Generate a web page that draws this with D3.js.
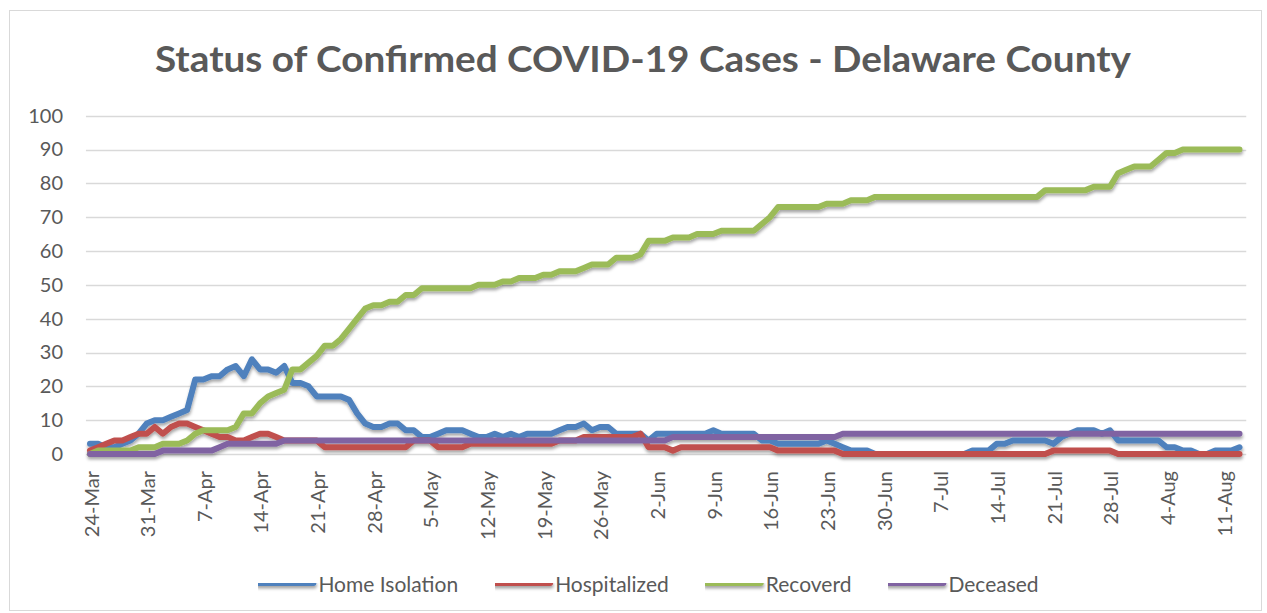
<!DOCTYPE html>
<html>
<head>
<meta charset="utf-8">
<script src="https://cdn.jsdelivr.net/npm/d3@7"></script>
<style>
  html, body { margin: 0; padding: 0; background: #ffffff; }
  svg { display: block; }
  text { font-family: "Lato", "Open Sans", "Liberation Sans", sans-serif; fill: #595959; }
</style>
</head>
<body>
<svg id="chart" width="1267" height="613"></svg>
<script>
// ---------------- DATA ----------------
const titleText = "Status of Confirmed COVID-19 Cases - Delaware County";
const startDate = "2020-03-24";
const endDate = "2020-08-13";
const tickLabels = ["24-Mar","31-Mar","7-Apr","14-Apr","21-Apr","28-Apr","5-May","12-May","19-May","26-May",
  "2-Jun","9-Jun","16-Jun","23-Jun","30-Jun","7-Jul","14-Jul","21-Jul","28-Jul","4-Aug","11-Aug"];
const yTicks = [0,10,20,30,40,50,60,70,80,90,100];
const seriesNames = ["Home Isolation","Hospitalized","Recoverd","Deceased"];
const seriesColors = ["#4F81BD","#C0504D","#9BBB59","#8064A2"];

const homeIsolation = [
  3,3,2,2,3,4,6,9,10,10,
  11,12,13,22,22,23,23,25,26,23,
  28,25,25,24,26,21,21,20,17,17,
  17,17,16,12,9,8,8,9,9,7,
  7,5,5,6,7,7,7,6,5,5,
  6,5,6,5,6,6,6,6,7,8,
  8,9,7,8,8,6,6,6,6,4,
  6,6,6,6,6,6,6,7,6,6,
  6,6,6,4,4,3,3,3,3,3,
  3,4,3,2,1,1,1,0,0,0,
  0,0,0,0,0,0,0,0,0,1,
  1,1,3,3,4,4,4,4,4,3,
  5,6,7,7,7,6,7,4,4,4,
  4,4,4,2,2,1,1,0,0,1,
  1,1,2];
const hospitalized = [
  1,2,3,4,4,5,6,6,8,6,
  8,9,9,8,7,6,5,5,4,4,
  5,6,6,5,4,4,4,4,4,2,
  2,2,2,2,2,2,2,2,2,2,
  4,4,4,2,2,2,2,3,3,3,
  3,3,3,3,3,3,3,3,4,4,
  4,5,5,5,5,5,5,5,6,2,
  2,2,1,2,2,2,2,2,2,2,
  2,2,2,2,2,1,1,1,1,1,
  1,1,1,0,0,0,0,0,0,0,
  0,0,0,0,0,0,0,0,0,0,
  0,0,0,0,0,0,0,0,0,1,
  1,1,1,1,1,1,1,0,0,0,
  0,0,0,0,0,0,0,0,0,0,
  0,0,0];
const recovered = [
  0,1,1,1,1,1,2,2,2,3,
  3,3,4,6,7,7,7,7,8,12,
  12,15,17,18,19,25,25,27,29,32,
  32,34,37,40,43,44,44,45,45,47,
  47,49,49,49,49,49,49,49,50,50,
  50,51,51,52,52,52,53,53,54,54,
  54,55,56,56,56,58,58,58,59,63,
  63,63,64,64,64,65,65,65,66,66,
  66,66,66,68,70,73,73,73,73,73,
  73,74,74,74,75,75,75,76,76,76,
  76,76,76,76,76,76,76,76,76,76,
  76,76,76,76,76,76,76,76,78,78,
  78,78,78,78,79,79,79,83,84,85,
  85,85,87,89,89,90,90,90,90,90,
  90,90,90];
const deceased = [
  0,0,0,0,0,0,0,0,0,1,
  1,1,1,1,1,1,2,3,3,3,
  3,3,3,3,4,4,4,4,4,4,
  4,4,4,4,4,4,4,4,4,4,
  4,4,4,4,4,4,4,4,4,4,
  4,4,4,4,4,4,4,4,4,4,
  4,4,4,4,4,4,4,4,4,4,
  4,4,5,5,5,5,5,5,5,5,
  5,5,5,5,5,5,5,5,5,5,
  5,5,5,6,6,6,6,6,6,6,
  6,6,6,6,6,6,6,6,6,6,
  6,6,6,6,6,6,6,6,6,6,
  6,6,6,6,6,6,6,6,6,6,
  6,6,6,6,6,6,6,6,6,6,
  6,6,6];

// ---------------- CHART ----------------
const svg = d3.select("#chart");
const parseISO = d3.timeParse("%Y-%m-%d");
const parseTick = d3.timeParse("%d-%b-%Y");
const dates = d3.timeDay.range(parseISO(startDate), d3.timeDay.offset(parseISO(endDate), 1));
const seriesValues = [homeIsolation, hospitalized, recovered, deceased];

const x = d3.scaleTime().domain([dates[0], dates[dates.length - 1]]).range([90, 1239.5]);
const y = d3.scaleLinear().domain([0, 100]).range([454, 115.7]);
const gridX0 = x(d3.timeHour.offset(dates[0], -12));
const gridX1 = x(d3.timeHour.offset(dates[dates.length - 1], 20));

// border
svg.append("rect").attr("x", 9.5).attr("y", 10.5).attr("width", 1252).attr("height", 600)
  .attr("fill", "#ffffff").attr("stroke", "#d9d9d9").attr("stroke-width", 1);

// defs: shadow (user-space region so flat lines keep it)
const defs = svg.append("defs");
const f = defs.append("filter").attr("id", "shadow").attr("filterUnits", "userSpaceOnUse")
  .attr("x", 0).attr("y", 0).attr("width", 1267).attr("height", 613);
f.append("feDropShadow").attr("dx", 0.5).attr("dy", 2.5).attr("stdDeviation", 1.8)
  .attr("flood-color", "#000").attr("flood-opacity", 0.35);

// title
svg.append("text").attr("x", 643).attr("y", 72).attr("text-anchor", "middle")
  .attr("font-size", 37).attr("font-weight", 700)
  .attr("textLength", 976).attr("lengthAdjust", "spacingAndGlyphs")
  .text(titleText);

// gridlines
svg.append("g").selectAll("line").data(yTicks).join("line")
  .attr("x1", gridX0).attr("x2", gridX1)
  .attr("y1", d => Math.round(y(d)) + 0.5).attr("y2", d => Math.round(y(d)) + 0.5)
  .attr("stroke", "#d9d9d9").attr("stroke-width", 1.5);

// y axis labels
const yAxis = d3.axisLeft(y).tickValues(yTicks).tickSize(0).tickPadding(0);
const gy = svg.append("g").attr("transform", "translate(63,0)").call(yAxis);
gy.select(".domain").remove();
gy.selectAll("text").attr("font-size", 20).attr("fill", "#595959")
  .style("font-family", '"Lato", "Open Sans", sans-serif');

// x axis labels
const tickDates = tickLabels.map(t => parseTick(t + "-2020"));
const xAxis = d3.axisBottom(x).tickValues(tickDates).tickFormat((d, i) => tickLabels[i]).tickSize(0);
const gx = svg.append("g").attr("transform", "translate(0,454)").call(xAxis);
gx.select(".domain").remove();
gx.selectAll("text")
  .attr("font-size", 20).attr("fill", "#595959")
  .style("font-family", '"Lato", "Open Sans", sans-serif')
  .attr("text-anchor", "end").attr("dominant-baseline", "central")
  .attr("dy", null)
  .attr("y", 0).attr("x", 0)
  .attr("transform", "translate(0,17) rotate(-90)");

// lines
const line = d3.line().x((d, i) => x(dates[i])).y(d => y(d));
svg.append("g").attr("filter", "url(#shadow)").selectAll("path").data(seriesValues).join("path")
  .attr("d", d => line(d))
  .attr("fill", "none")
  .attr("stroke", (d, i) => seriesColors[i])
  .attr("stroke-width", 6)
  .attr("stroke-linejoin", "round")
  .attr("stroke-linecap", "round");

// legend
const legend = svg.append("g").attr("filter", null);
const items = legend.selectAll("g").data(seriesNames).join("g");
items.append("line").attr("x1", 0).attr("x2", 55).attr("y1", 0).attr("y2", 0)
  .attr("stroke", (d, i) => seriesColors[i]).attr("stroke-width", 6).attr("stroke-linecap", "round")
  .attr("filter", "url(#shadow)");
items.append("text").attr("x", 60).attr("y", 0).attr("dominant-baseline", "central")
  .attr("font-size", 21).text(d => d);
let widths = [];
items.each(function () { widths.push(60 + d3.select(this).select("text").node().getComputedTextLength()); });
const gap = 37;
const total = d3.sum(widths) + gap * (widths.length - 1);
let cx = 648.5 - total / 2;
items.attr("transform", (d, i) => { const t = `translate(${cx},583)`; cx += widths[i] + gap; return t; });
</script>
</body>
</html>
